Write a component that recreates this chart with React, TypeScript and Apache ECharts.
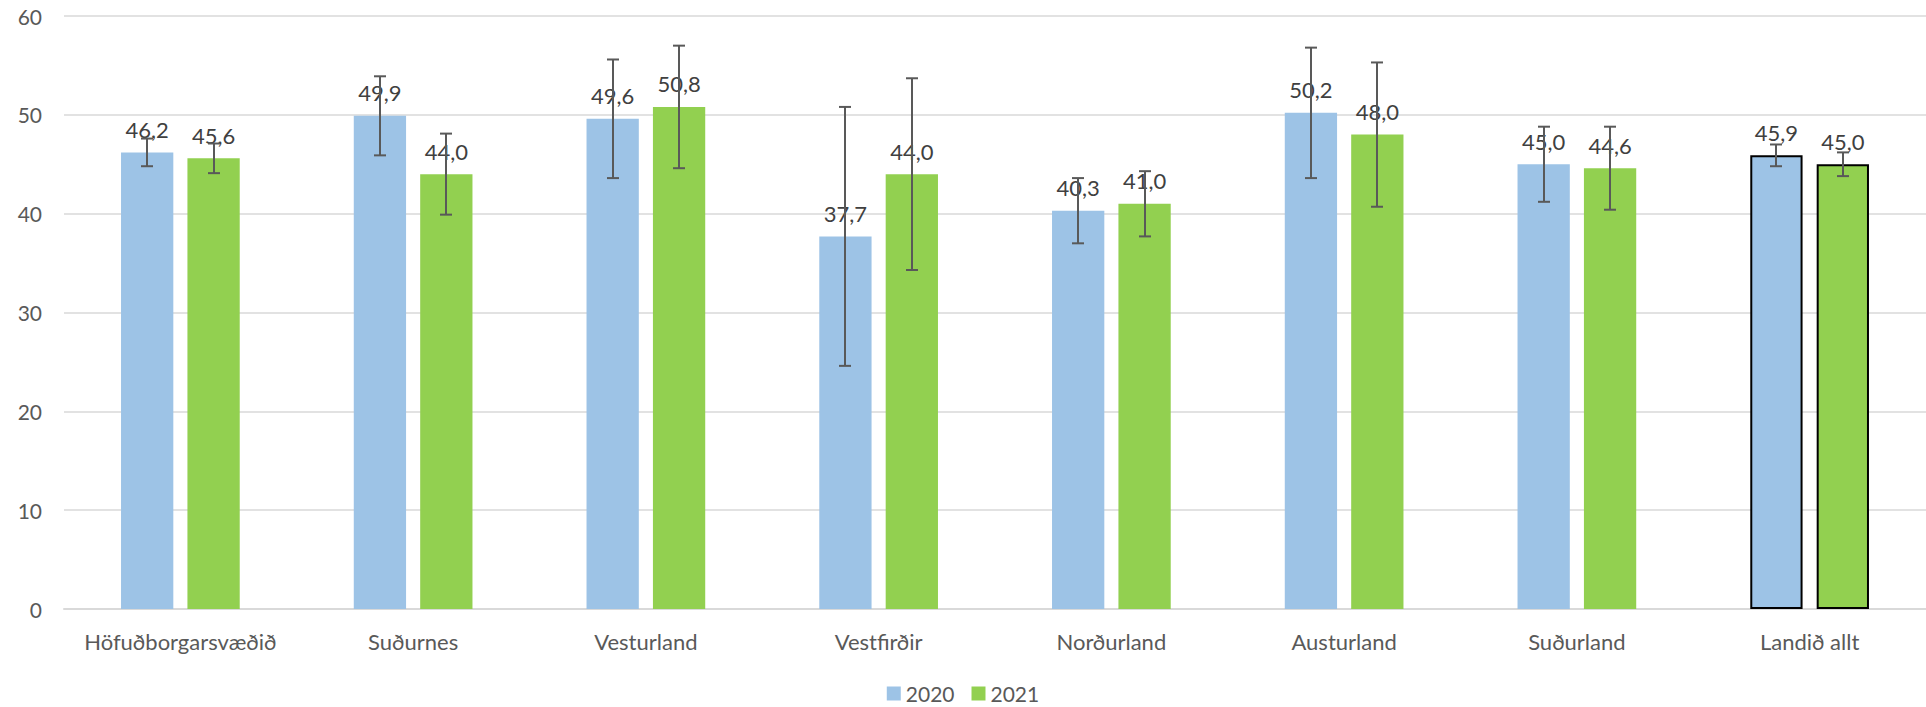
import React, { useEffect, useRef } from "react";
import * as echarts from "echarts";

const categories = [
  "Höfuðborgarsvæðið",
  "Suðurnes",
  "Vesturland",
  "Vestfirðir",
  "Norðurland",
  "Austurland",
  "Suðurland",
  "Landið allt",
];
const values2020 = [46.2, 49.9, 49.6, 37.7, 40.3, 50.2, 45.0, 45.9];
const values2021 = [45.6, 44.0, 50.8, 44.0, 41.0, 48.0, 44.6, 45.0];
const err2020 = [1.4, 4.0, 6.0, 13.1, 3.3, 6.6, 3.8, 1.1];
const err2021 = [1.5, 4.1, 6.2, 9.7, 3.3, 7.3, 4.2, 1.2];
const seriesNames = ["2020", "2021"];
const yTicks = { min: 0, max: 60, interval: 10 };

const COLORS = ["#9dc3e6", "#92d050"];
const CAT_GAP = 0.49;
const BAR_GAP = 0.27;
const FONT = "Lato, 'Open Sans', sans-serif";

export default function App() {
  const ref = useRef<HTMLDivElement>(null);
  useEffect(() => {
    const chart = echarts.init(ref.current!, null, { renderer: "svg" });
    const fmt = (p: any) => Number(p.value).toFixed(1).replace(".", ",");
    const barData = (vals: number[], color: string) =>
      vals.map((v, i) =>
        i === categories.length - 1
          ? { value: v, itemStyle: { color, borderColor: "#000", borderWidth: 2 } }
          : { value: v, itemStyle: { color } }
      );
    const errData: number[][] = [];
    values2020.forEach((v, i) => errData.push([i, v - err2020[i], v + err2020[i], 0]));
    values2021.forEach((v, i) => errData.push([i, v - err2021[i], v + err2021[i], 1]));

    const labelCfg = {
      show: true,
      position: "top",
      distance: 12,
      formatter: fmt,
      fontSize: 22,
      lineHeight: 22,
      color: "#404040",
      fontFamily: FONT,
    };

    chart.setOption({
      animation: false,
      textStyle: { fontFamily: FONT },
      grid: { left: 64, right: -7, top: 16, bottom: 98, containLabel: false },
      legend: {
        data: seriesNames,
        bottom: -2,
        left: "center",
        itemWidth: 14,
        itemHeight: 14,
        itemGap: 17,
        icon: "rect",
        textStyle: { fontSize: 21, color: "#595959", fontFamily: FONT },
      },
      xAxis: {
        type: "category",
        data: categories,
        axisTick: { show: false },
        axisLine: { lineStyle: { color: "#d9d9d9", width: 2 } },
        axisLabel: { fontSize: 22, color: "#595959", margin: 21, fontFamily: FONT, interval: 0 },
      },
      yAxis: {
        type: "value",
        min: yTicks.min,
        max: yTicks.max,
        interval: yTicks.interval,
        axisLine: { show: false },
        axisTick: { show: false },
        splitLine: { lineStyle: { color: "#d9d9d9", width: 1.5 } },
        axisLabel: { fontSize: 21, color: "#595959", margin: 22, fontFamily: FONT },
      },
      series: [
        {
          name: seriesNames[0],
          type: "bar",
          data: barData(values2020, COLORS[0]),
          itemStyle: { color: COLORS[0] },
          barCategoryGap: CAT_GAP * 100 + "%",
          barGap: BAR_GAP * 100 + "%",
          label: labelCfg,
        },
        {
          name: seriesNames[1],
          type: "bar",
          data: barData(values2021, COLORS[1]),
          itemStyle: { color: COLORS[1] },
          barCategoryGap: CAT_GAP * 100 + "%",
          barGap: BAR_GAP * 100 + "%",
          label: labelCfg,
        },
        {
          type: "custom",
          name: "err",
          z: 5,
          encode: { x: 0, y: [1, 2] },
          data: errData,
          renderItem: (params: any, api: any) => {
            const cat = api.value(0);
            const lo = api.value(1);
            const hi = api.value(2);
            const si = api.value(3);
            const band = api.size([1, 0])[0];
            const avail = band * (1 - CAT_GAP);
            const bw = avail / (2 + BAR_GAP);
            const off = ((si === 0 ? -1 : 1) * bw * (1 + BAR_GAP)) / 2;
            const pLo = api.coord([cat, lo]);
            const pHi = api.coord([cat, hi]);
            const x = Math.round(pLo[0] + off);
            const cap = 6;
            const style = { stroke: "#595959", lineWidth: 2 };
            return {
              type: "group",
              children: [
                { type: "line", shape: { x1: x, y1: pLo[1], x2: x, y2: pHi[1] }, style },
                { type: "line", shape: { x1: x - cap, y1: pHi[1], x2: x + cap, y2: pHi[1] }, style },
                { type: "line", shape: { x1: x - cap, y1: pLo[1], x2: x + cap, y2: pLo[1] }, style },
              ],
            };
          },
        },
      ],
    });
    return () => chart.dispose();
  }, []);
  return (
    <div
      ref={ref}
      style={{ position: "absolute", left: 0, top: 0, width: 1926, height: 707, overflow: "hidden" }}
    />
  );
}
